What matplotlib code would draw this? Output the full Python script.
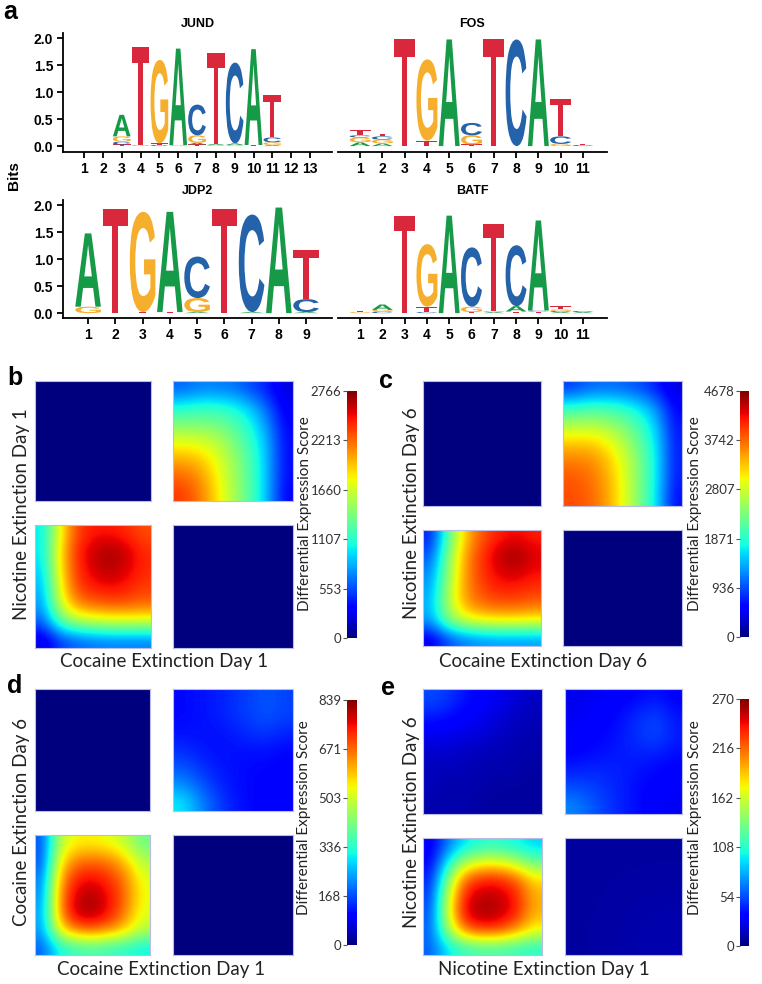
import numpy as np
import matplotlib
matplotlib.use('Agg')
import matplotlib.pyplot as plt
from matplotlib.font_manager import FontProperties
from matplotlib.textpath import TextPath
from matplotlib.patches import PathPatch
from matplotlib.transforms import Affine2D

W, H = 762, 984

# ---------------------------------------------------------------- data
# motif logos: one stack per position, bottom -> top, (base, bits)
jund = [[], [],
        [('T', .03), ('C', .05), ('G', .10), ('A', .40)],
        [('G', .02), ('T', 1.82)],
        [('C', .02), ('T', .03), ('G', 1.55)],
        [('G', .02), ('A', 1.79)],
        [('T', .03), ('A', .03), ('G', .14), ('C', .57)],
        [('G', .02), ('A', .02), ('T', 1.69)],
        [('G', .02), ('A', .03), ('C', 1.50)],
        [('T', .02), ('A', 1.78)],
        [('A', .02), ('G', .05), ('C', .09), ('T', .78)],
        [], []]
fos = [[('A', .07), ('G', .09), ('C', .04), ('T', .10)],
       [('A', .05), ('G', .07), ('C', .06), ('T', .05)],
       [('T', 1.98)],
       [('T', .10), ('G', 1.51)],
       [('A', 1.98)],
       [('T', .03), ('G', .17), ('C', .23)],
       [('T', 1.98)],
       [('C', 1.98)],
       [('A', 1.98)],
       [('G', .04), ('C', .14), ('T', .70)],
       [('C', .02), ('T', .02)]]
jdp2 = [[('G', .12), ('A', 1.36)],
        [('T', 1.93)],
        [('T', .02), ('G', 1.86)],
        [('T', .02), ('A', 1.86)],
        [('A', .02), ('G', .26), ('C', .77)],
        [('T', 1.93)],
        [('A', .02), ('C', 1.81)],
        [('A', 1.96)],
        [('A', .02), ('C', .24), ('T', .92)]]
batf = [[('G', .02), ('T', .02)],
        [('C', .03), ('G', .03), ('A', .10)],
        [('T', 1.81)],
        [('C', .02), ('T', .10), ('G', 1.16)],
        [('A', 1.81)],
        [('T', .02), ('G', .10), ('C', 1.10)],
        [('A', .02), ('G', .02), ('T', 1.62)],
        [('T', .03), ('A', .10), ('C', 1.13)],
        [('T', .03), ('C', .02), ('A', 1.67)],
        [('A', .02), ('C', .02), ('G', .03), ('T', .06)],
        [('A', .02), ('C', .02)]]

base_colors = {'A': '#179a48', 'C': '#2462aa', 'G': '#f6ae2d', 'T': '#d9283b'}

# RRHO quadrant maps (rows top -> bottom), differential expression score
zero = [[0, 0], [0, 0]]

b_max = 2766
b_ticks = [0, 553, 1107, 1660, 2213, 2766]
b_tr = [[610, 690, 690, 660, 550, 415, 220],
        [1050, 1110, 1110, 1050, 885, 610, 280],
        [1380, 1380, 1355, 1245, 1050, 745, 330],
        [1715, 1690, 1605, 1380, 1160, 830, 360],
        [1990, 1935, 1745, 1495, 1215, 855, 360],
        [2215, 2100, 1825, 1520, 1245, 855, 360],
        [2350, 2185, 1880, 1550, 1245, 855, 330]]
b_bl = [[970, 1760, 2320, 2450, 2450, 2400, 2290],
        [970, 1850, 2400, 2590, 2690, 2590, 2400],
        [910, 1820, 2370, 2560, 2640, 2560, 2400],
        [830, 1760, 2320, 2450, 2500, 2450, 2340],
        [775, 1640, 2120, 2230, 2280, 2280, 2230],
        [610, 1245, 1520, 1600, 1660, 1660, 1660],
        [220, 500, 610, 660, 690, 690, 690]]

c_max = 4678
c_ticks = [0, 936, 1871, 2807, 3742, 4678]
c_tr = [[840, 1030, 1080, 1030, 940, 700, 370],
        [1870, 1960, 1960, 1870, 1640, 1260, 560],
        [2620, 2670, 2570, 2340, 2010, 1500, 650],
        [3270, 3270, 3090, 2710, 2200, 1640, 700],
        [3650, 3600, 3370, 2900, 2340, 1680, 700],
        [3840, 3740, 3460, 2990, 2340, 1680, 700],
        [3880, 3790, 3510, 2990, 2340, 1640, 610]]
c_bl = [[700, 2110, 3270, 3840, 4120, 4210, 4120],
        [940, 2340, 3460, 4020, 4400, 4580, 4300],
        [1170, 2430, 3510, 4020, 4300, 4400, 4210],
        [1310, 2570, 3510, 3930, 4120, 4120, 4020],
        [1400, 2620, 3460, 3740, 3840, 3840, 3740],
        [1310, 2340, 2810, 2990, 3040, 3040, 2990],
        [470, 940, 1170, 1260, 1310, 1310, 1310]]

d_max = 839
d_ticks = [0, 168, 336, 503, 671, 839]
d_tr = [[109, 117, 126, 143, 159, 176, 159],
        [109, 117, 126, 143, 159, 176, 159],
        [117, 117, 117, 126, 143, 151, 134],
        [143, 126, 117, 117, 117, 117, 109],
        [176, 151, 126, 117, 109, 109, 101],
        [227, 185, 143, 117, 109, 101, 101],
        [302, 227, 168, 126, 109, 101, 92]]
d_bl = [[168, 487, 545, 545, 529, 487, 403],
        [168, 545, 654, 671, 654, 587, 470],
        [201, 604, 738, 755, 722, 654, 520],
        [218, 638, 780, 805, 755, 671, 537],
        [235, 638, 797, 814, 755, 654, 520],
        [235, 554, 671, 688, 654, 587, 487],
        [185, 319, 352, 369, 352, 336, 310]]

e_max = 270
e_ticks = [0, 54, 108, 162, 216, 270]
e_tl = [[54, 49, 38, 32, 27, 22, 16],
        [43, 38, 32, 27, 22, 16, 14],
        [27, 27, 24, 22, 16, 14, 11],
        [19, 19, 16, 14, 14, 11, 11],
        [14, 14, 14, 11, 11, 11, 8],
        [14, 11, 11, 11, 8, 8, 8],
        [11, 11, 11, 8, 8, 8, 8]]
e_tr = [[27, 27, 30, 32, 35, 38, 32],
        [27, 30, 32, 38, 46, 51, 38],
        [30, 32, 35, 41, 49, 54, 41],
        [32, 35, 38, 41, 43, 43, 38],
        [41, 43, 43, 41, 38, 35, 32],
        [54, 51, 46, 41, 35, 32, 30],
        [70, 59, 49, 41, 35, 30, 27]]
e_bl = [[27, 68, 95, 108, 108, 100, 89],
        [32, 103, 157, 173, 173, 157, 130],
        [41, 140, 221, 238, 238, 221, 184],
        [49, 162, 243, 257, 254, 238, 194],
        [54, 167, 251, 262, 257, 238, 194],
        [59, 149, 216, 232, 227, 205, 173],
        [59, 97, 113, 119, 119, 113, 108]]
e_br = [[8, 8], [8, 12]]

# ---------------------------------------------------------------- helpers
fig = plt.figure(figsize=(W / 100, H / 100), dpi=100)


def box(x0, y0, x1, y1):
    """pixel box (top-left, bottom-right) -> figure fraction rect"""
    return [x0 / W, 1 - y1 / H, (x1 - x0) / W, (y1 - y0) / H]


def ftext(x, y, s, **kw):
    fig.text(x / W, 1 - y / H, s, ha='center', va='center', **kw)


logo_font = FontProperties(family='Liberation Sans', weight='bold')


def draw_logo(ax, stacks, width=0.94):
    for i, stack in enumerate(stacks):
        x = i + 1
        y = 0.0
        for base, h in stack:
            tp = TextPath((0, 0), base, size=1, prop=logo_font)
            bb = tp.get_extents()
            tr = Affine2D().translate(-bb.x0, -bb.y0) \
                .scale(width / bb.width, h / bb.height) \
                .translate(x - width / 2, y)
            ax.add_patch(PathPatch(tr.transform_path(tp),
                                   fc=base_colors[base], ec='none', lw=0))
            y += h


def logo_axes(rect, stacks, xlim, ylim, title, yaxis):
    ax = fig.add_axes(rect)
    draw_logo(ax, stacks)
    ax.set_xlim(*xlim)
    ax.set_ylim(*ylim)
    ax.set_xticks(range(1, len(stacks) + 1))
    ax.set_yticks([0, 0.5, 1.0, 1.5, 2.0])
    ax.set_yticklabels(['0.0', '0.5', '1.0', '1.5', '2.0'])
    for s in ['top', 'right']:
        ax.spines[s].set_visible(False)
    ax.spines['bottom'].set_linewidth(1.3)
    ax.spines['left'].set_linewidth(1.3)
    ax.tick_params(width=1.3, length=4, labelsize=10, pad=3)
    for lab in ax.get_xticklabels() + ax.get_yticklabels():
        lab.set_fontweight('bold')
        lab.set_fontfamily('Liberation Sans')
    if not yaxis:
        ax.spines['left'].set_visible(False)
        ax.tick_params(axis='y', left=False, labelleft=False)
    ax.set_title(title, fontsize=9, fontweight='bold',
                 fontfamily='Liberation Sans', pad=4)
    return ax


# ---------------------------------------------------------------- panel a
logo_axes(box(63, 33, 332, 152), jund, (-0.12, 14.17), (-0.11, 2.1), 'JUND', True)
logo_axes(box(338, 33, 607, 152), fos, (0.01, 12.08), (-0.11, 2.1), 'FOS', False)
logo_axes(box(63, 200, 332, 318), jdp2, (0.08, 9.95), (-0.09, 2.1), 'JDP2', True)
logo_axes(box(338, 200, 607, 318), batf, (0.01, 12.08), (-0.09, 2.1), 'BATF', False)
ftext(14, 176, 'Bits', rotation=90, fontsize=11, fontweight='bold',
      family='Liberation Sans')

# ---------------------------------------------------------------- panels b-e
lab_font = dict(family=['Lato', 'DejaVu Sans'], color='#222222')


def quad(rect, grid, vmax):
    ax = fig.add_axes(rect)
    im = ax.imshow(np.array(grid, dtype=float), cmap='jet', vmin=0, vmax=vmax,
                   interpolation='bicubic', aspect='auto',
                   extent=[0, 1, 0, 1])
    ax.set_xticks([])
    ax.set_yticks([])
    for s in ax.spines.values():
        s.set_color('#b9bde6')
        s.set_linewidth(0.8)
    return im


def rrho(quads, grids, vmax, ticks, cbar_rect):
    im = None
    for rect, grid in zip(quads, grids):
        im = quad(box(*rect), grid, vmax)
    cax = fig.add_axes(box(*cbar_rect))
    cb = fig.colorbar(im, cax=cax, ticks=ticks)
    cb.outline.set_visible(False)
    cax.yaxis.set_ticks_position('left')
    cax.tick_params(length=3, width=0.8, color='#555555', labelsize=9.5,
                    labelcolor='#333333', pad=1)
    for lab in cax.get_yticklabels():
        lab.set_fontfamily('Lato')


rrho([(35, 381, 151, 501), (173, 381, 293, 501),
      (35, 525, 151, 648), (173, 525, 293, 648)],
     [zero, b_tr, b_bl, zero], b_max, b_ticks, (347, 391, 357, 638))
rrho([(423, 381, 541, 506), (563, 381, 682, 506),
      (423, 530, 541, 646), (563, 530, 682, 646)],
     [zero, c_tr, c_bl, zero], c_max, c_ticks, (740, 391, 749, 637))
rrho([(35, 689, 150, 811), (173, 689, 293, 811),
      (35, 835, 150, 955), (173, 835, 293, 955)],
     [zero, d_tr, d_bl, zero], d_max, d_ticks, (347, 700, 357, 945))
rrho([(423, 689, 542, 814), (565, 689, 682, 814),
      (423, 838, 542, 955), (565, 838, 682, 955)],
     [e_tl, e_tr, e_bl, e_br], e_max, e_ticks, (740, 699, 749, 946))

# axis labels
ftext(22, 514, 'Nicotine Extinction Day 1', rotation=90, fontsize=13.5, **lab_font)
ftext(164, 662, 'Cocaine Extinction Day 1', fontsize=13.5, **lab_font)
ftext(305, 514, 'Differential Expression Score', rotation=90, fontsize=11, **lab_font)

ftext(412, 513, 'Nicotine Extinction Day 6', rotation=90, fontsize=13.5, **lab_font)
ftext(543, 662, 'Cocaine Extinction Day 6', fontsize=13.5, **lab_font)
ftext(695, 514, 'Differential Expression Score', rotation=90, fontsize=11, **lab_font)

ftext(22, 822, 'Cocaine Extinction Day 6', rotation=90, fontsize=13.5, **lab_font)
ftext(161, 970, 'Cocaine Extinction Day 1', fontsize=13.5, **lab_font)
ftext(304, 818, 'Differential Expression Score', rotation=90, fontsize=11, **lab_font)

ftext(412, 822, 'Nicotine Extinction Day 6', rotation=90, fontsize=13.5, **lab_font)
ftext(544, 970, 'Nicotine Extinction Day 1', fontsize=13.5, **lab_font)
ftext(695, 818, 'Differential Expression Score', rotation=90, fontsize=11, **lab_font)

# panel letters
for x, y, s in [(10, 12, 'a'), (15, 378, 'b'), (386, 381, 'c'),
                (15, 686, 'd'), (388, 688, 'e')]:
    ftext(x, y, s, fontsize=18, fontweight='bold', family='Liberation Sans')

fig.savefig('out.png', dpi=100)
